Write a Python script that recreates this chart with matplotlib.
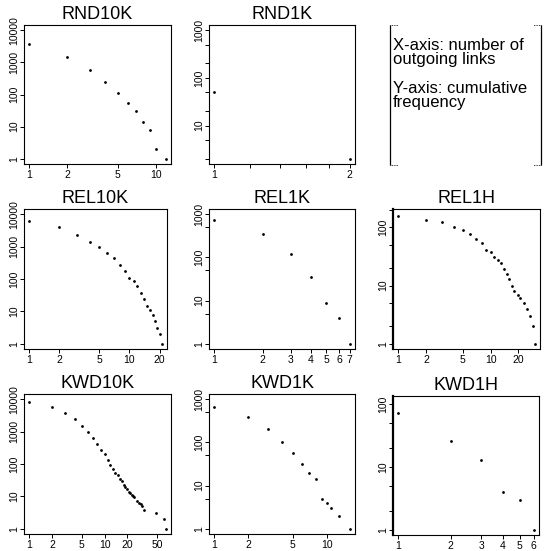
import numpy as np
import matplotlib.pyplot as plt
from matplotlib.ticker import FixedLocator, FixedFormatter

plt.rcParams['font.family'] = ['Liberation Sans', 'DejaVu Sans']

W, H, DPI = 544, 551, 100

# cumulative frequency of outgoing links
rnd10k_x = [1, 2, 3, 4, 5, 6, 7, 8, 9, 10, 12]
rnd10k_y = [3690, 1430, 580, 252, 110, 54, 30, 14, 8, 2, 1]

rnd1k_x = [1, 2]
rnd1k_y = [50, 2]

rel10k_x = list(range(1, 22))
rel10k_y = [6240, 3900, 2265, 1413, 946, 620, 435, 272, 182, 111, 85, 59,
            37, 24, 15, 11, 8, 5, 3, 2, 1]

rel1k_x = [1, 2, 3, 4, 5, 6, 7]
rel1k_y = [740, 343, 118, 35, 9, 4, 1]

rel1h_x = list(range(1, 18)) + [18, 20, 21, 23, 25, 27, 29, 30]
rel1h_y = [158, 135, 123, 101, 89, 78, 64, 54, 41, 37, 31, 27, 24, 19, 16, 13,
           10, 8, 7, 6, 5, 4, 3, 2, 1]

kwd10k_x = list(range(1, 26)) + [27, 29, 31, 32, 34, 49, 62, 65]
kwd10k_y = [8280, 5550, 3630, 2380, 1480, 970, 636, 426, 279, 204, 134, 94,
            69, 54, 46, 34, 29, 23, 20, 17, 14, 12.7, 11.3, 10.5, 9.6,
            7, 6.3, 5.8, 4.9, 3.9, 3.1, 2, 1]

kwd1k_x = [1, 2, 3, 4, 5, 6, 7, 8, 9, 10, 11, 13, 16]
kwd1k_y = [670, 393, 207, 102, 56, 32, 20, 14, 5, 4, 3, 2, 1]

kwd1h_x = [1, 2, 3, 4, 5, 6]
kwd1h_y = [73, 26, 13, 4, 3, 1]

titles = ['RND10K', 'RND1K', 'REL10K', 'REL1K', 'REL1H',
          'KWD10K', 'KWD1K', 'KWD1H']

dec = [1, 10, 100, 1000, 10000]
d125 = [1, 2, 5, 10, 20, 50, 100, 200, 500, 1000]
d15 = [1, 5, 10, 50, 100, 500, 1000]


def labs(ticks, show):
    return [('%g' % t) if t in show else '' for t in ticks]


# name: (x, y, raw xlim, raw ylim, xticks, xshown, yticks, box px l,t,r,b)
panels = {
    'RND10K': (rnd10k_x, rnd10k_y, (1, 12), (1, 10000), [1, 2, 5, 10], [1, 2, 5, 10],
               dec, (24, 25, 171, 164)),
    'RND1K': (rnd1k_x, rnd1k_y, (1, 2), (2, 1000), [1, 1.2, 1.4, 1.6, 1.8, 2], [1, 2],
              [2, 5, 10, 20, 50, 100, 200, 500, 1000], (209, 25, 355, 164)),
    'REL10K': (rel10k_x, rel10k_y, (1, 21), (1, 10000), [1, 2, 5, 10, 20],
               [1, 2, 5, 10, 20], dec, (24, 209, 167, 349)),
    'REL1K': (rel1k_x, rel1k_y, (1, 7), (1, 1000), [1, 2, 3, 4, 5, 6, 7],
              [1, 2, 3, 4, 5, 6, 7], d15, (209, 209, 355, 349)),
    'REL1H': (rel1h_x, rel1h_y, (1, 30), (1, 168), [1, 2, 5, 10, 20], [1, 2, 5, 10, 20],
              d125[:8], (393, 209, 540, 349)),
    'KWD10K': (kwd10k_x, kwd10k_y, (1, 65), (1, 10000), [1, 2, 5, 10, 20, 50],
               [1, 2, 5, 10, 20, 50], dec, (24, 394, 171, 534)),
    'KWD1K': (kwd1k_x, kwd1k_y, (1, 16), (1, 1000), [1, 2, 5, 10], [1, 2, 5, 10],
              d15, (209, 394, 355, 534)),
    'KWD1H': (kwd1h_x, kwd1h_y, (1, 6), (1, 113), [1, 2, 3, 4, 5, 6], [1, 2, 3, 4, 5, 6],
              d125[:7], (393, 396, 539, 535)),
}


def rlim(lo, hi):
    # R style: widen the log range by 4% on each side
    a, b = np.log10(lo), np.log10(hi)
    d = 0.04 * (b - a)
    return 10 ** (a - d), 10 ** (b + d)


def box(l, t, r, b):
    return [l / W, 1 - b / H, (r - l) / W, (b - t) / H]


fig = plt.figure(figsize=(W / DPI, H / DPI), dpi=DPI)

for name in titles:
    x, y, xl, yl, xt, xs, yt, px = panels[name]
    ax = fig.add_axes(box(*px))
    ax.plot(x, y, 'o', color='black', ms=2.0, mew=0)
    ax.set_xscale('log')
    ax.set_yscale('log')
    ax.set_xlim(*rlim(*xl))
    ax.set_ylim(*rlim(*yl))
    ax.xaxis.set_major_locator(FixedLocator(xt))
    ax.xaxis.set_major_formatter(FixedFormatter(labs(xt, xs)))
    ax.yaxis.set_major_locator(FixedLocator(yt))
    ax.yaxis.set_major_formatter(FixedFormatter(labs(yt, dec)))
    ax.xaxis.set_minor_locator(FixedLocator([]))
    ax.yaxis.set_minor_locator(FixedLocator([]))
    ax.tick_params(direction='out', length=3.2, width=0.7, labelsize=7.5, pad=1)
    ax.tick_params(axis='y', labelrotation=90, pad=0.5)
    for lab in ax.get_yticklabels():
        lab.set_va('center')
    for s in ax.spines.values():
        s.set_linewidth(0.8)
    if name in ('REL1H', 'KWD1H'):
        ax.spines['left'].set_linewidth(1.6)
    ax.set_title(name, fontsize=13, pad=4)

# explanation panel
tx = fig.add_axes(box(390, 25, 541, 165))
tx.set_xlim(0, 1)
tx.set_ylim(0, 1)
tx.axis('off')
for xe, sgn in ((0, 1), (1, -1)):
    tx.plot([xe, xe], [0, 1], color='black', lw=0.9, solid_capstyle='butt', clip_on=False)
    for ye in (0, 1):
        tx.plot([xe, xe + sgn * 0.055], [ye, ye], color='black', lw=0.6,
                ls=(0, (1, 1)), clip_on=False)

lines = ['X-axis: number of', 'outgoing links', 'Y-axis: cumulative', 'frequency']
base = [50, 64, 93, 107]
for s, yb in zip(lines, base):
    fig.text(393 / W, 1 - yb / H, s, fontsize=12, va='baseline', ha='left')

fig.savefig('out.png', dpi=DPI)
